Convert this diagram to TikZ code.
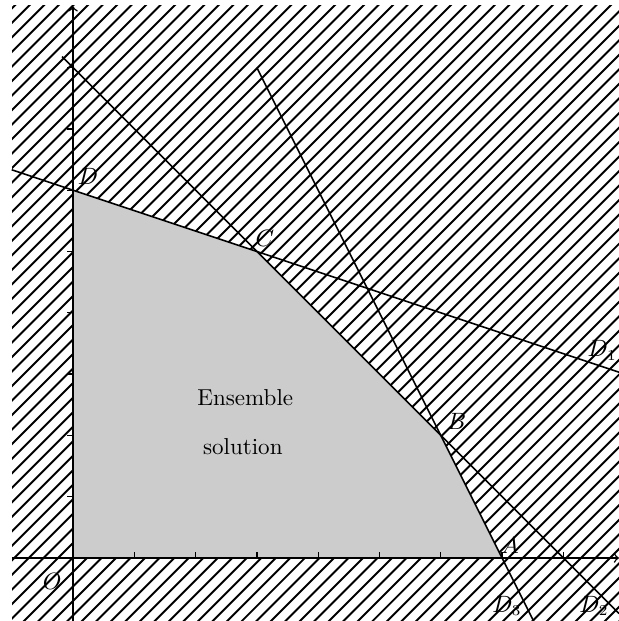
\documentclass[tikz,border=0pt]{standalone}
\begin{document}
\begin{tikzpicture}[x=1cm,y=1cm,
  hatch/.style={line width=0.9pt},
  bound/.style={line width=0.75pt},
  axis/.style={line width=0.7pt},
  tick/.style={line width=0.6pt},
  lbl/.style={font=\fontsize{10.7}{13}\selectfont, inner sep=0pt},
  txt/.style={font=\fontsize{10.7}{13}\selectfont, inner sep=1pt}]
\useasboundingbox (-1.191,-1.028) rectangle (8.907,9.103);
% hatching
\begin{scope}
\clip (-0.995,-1.028) rectangle (8.907,9.02);
\foreach \k in {0,...,90} \draw[hatch] ({-11.3+\k*0.237},-1.1) -- ++(10.5,10.5);
\end{scope}
% points
\coordinate (O) at (0,0);
\coordinate (A) at (7,0);
\coordinate (B) at (6,2);
\coordinate (C) at (3,5);
\coordinate (Dp) at (0,6);
\coordinate (d1s) at (-1,6.333);
\coordinate (d1e) at (8.907,3.031);
\coordinate (d2s) at (-0.18,8.18);
\coordinate (d2e) at (8.907,-0.907);
\coordinate (d3s) at (3,8);
\coordinate (d3e) at (7.52,-1.04);
\coordinate (xs) at (-0.995,0);
\coordinate (xe) at (8.907,0);
\coordinate (ys) at (0,-1.028);
\coordinate (ye) at (0,9.0);
% feasible region
\fill[black!20] (O) -- (A) -- (B) -- (C) -- (Dp) -- cycle;
% axes
\draw[axis,-to] (xs) -- (xe);
\draw[axis,-to] (ys) -- (ye);
\foreach \i in {1,...,8} \draw[tick] (\i,0) -- (\i,0.1);
\foreach \i in {1,...,8} \draw[tick] (0,\i) -- (-0.1,\i);
% boundary lines
\draw[bound] (d1s) -- (d1e);
\draw[bound] (d2s) -- (d2e);
\draw[bound] (d3s) -- (d3e);
% labels
\node[lbl] (lD) at (0.245,6.22) {$D$};
\node[lbl] (lC) at (3.13,5.22) {$C$};
\node[lbl] (lB) at (6.26,2.22) {$B$};
\node[lbl] (lA) at (7.13,0.2) {$A$};
\node[lbl,anchor=east] (lD1) at (8.88,3.39) {$D_1$};
\node[lbl] (lD3) at (7.08,-0.78) {$D_3$};
\node[lbl] (lD2) at (8.5,-0.78) {$D_2$};
\node[lbl] (lO) at (-0.34,-0.39) {$O$};
\node[txt] (t1) at (2.81,2.61) {Ensemble};
\node[txt] (t2) at (2.77,1.81) {solution};
\end{tikzpicture}
\end{document}
